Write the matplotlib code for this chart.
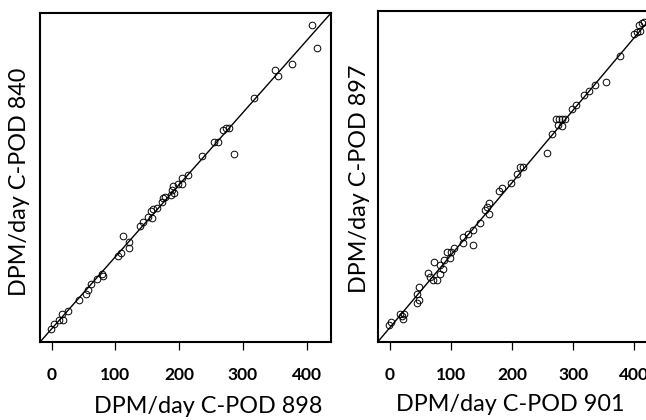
import matplotlib
matplotlib.use("Agg")
import matplotlib.pyplot as plt

# Left panel: C-POD 898 (x) vs C-POD 840 (y)
x_898 = [407.9, 416.2, 376.5, 350.3, 354.5, 317.4, 269.3, 273.5, 278.2, 286.6,
         255.2, 261.5, 235.3, 213.4, 203.9, 205.0, 198.7, 190.9, 192.4, 187.2,
         189.3, 175.2, 177.8, 173.6, 164.7, 159.5, 155.3, 156.9, 151.6, 143.8,
         138.6, 112.4, 121.8, 121.8, 108.2, 104.6, 79.5, 81.0, 70.6, 61.2,
         57.5, 53.9, 43.4, 25.1, 16.2, 17.3, 12.0, 3.7, -1.6]
y_840 = [421.1, 389.6, 367.0, 359.1, 351.2, 320.3, 275.4, 279.1, 279.1, 243.0,
         259.7, 259.7, 239.8, 213.9, 209.7, 201.4, 201.4, 197.7, 188.4, 185.2,
         192.1, 182.0, 182.9, 175.9, 167.6, 166.2, 163.0, 153.7, 155.1, 148.2,
         142.7, 128.8, 120.5, 112.1, 105.2, 100.6, 76.1, 72.8, 69.6, 61.7,
         54.3, 48.8, 40.4, 24.7, 21.0, 11.8, 11.8, 6.2, 0.2]

# Right panel: C-POD 901 (x) vs C-POD 897 (y)
x_901 = [400.5, 404.3, 409.8, 408.2, 412.5, 416.9, 377.0, 354.6, 336.0, 326.7,
         317.5, 304.3, 298.9, 286.9, 282.0, 277.6, 271.6, 274.8, 282.0, 265.0,
         256.8, 218.6, 213.1, 207.6, 198.3, 184.1, 179.2, 162.8, 158.5, 155.7,
         162.3, 147.5, 136.6, 136.6, 127.3, 119.1, 119.1, 104.9, 99.4, 94.0,
         98.4, 88.5, 82.0, 87.4, 72.1, 82.0, 76.5, 71.0, 65.6, 61.7,
         48.1, 43.7, 48.1, 43.7, 22.9, 16.4, 19.1, 21.9, 2.2, -1.6]
y_897 = [405.7, 407.5, 409.4, 417.2, 420.4, 422.2, 374.8, 338.9, 334.8, 326.0,
         321.4, 306.7, 301.6, 288.3, 287.8, 287.8, 287.8, 279.0, 278.6, 267.6,
         240.8, 221.5, 221.5, 212.3, 199.4, 192.5, 187.9, 171.8, 166.3, 162.6,
         157.1, 144.6, 134.0, 114.2, 129.4, 124.8, 116.5, 110.1, 104.1, 104.1,
         95.8, 92.6, 85.7, 81.1, 90.3, 74.2, 65.0, 65.0, 69.6, 75.1,
         55.8, 46.6, 38.3, 33.7, 19.0, 19.0, 15.3, 11.6, 7.4, 2.8]

x_ticks = [0, 100, 200, 300, 400]
x_labels = ["0", "100", "200", "300", "400"]
lim_left = (-18.3, 438.2)
lim_right = (-20.2, 437.0)

FONT = "Lato"
plt.rcParams["font.family"] = [FONT, "DejaVu Sans"]

W, H = 646, 420
fig = plt.figure(figsize=(W / 100, H / 100), dpi=100)

# The right-hand panel runs past the figure edge, as in the (cropped) original
panels = [
    dict(rect=(40, 13, 291, 329), x=x_898, y=y_840, lim=lim_left,
         xlabel="DPM/day C-POD 898", ylabel="DPM/day C-POD 840",
         xl=(0.577, -0.195), yl=(-0.069, 0.486)),
    dict(rect=(377.7, 11, 279.0, 331), x=x_901, y=y_897, lim=lim_right,
         xlabel="DPM/day C-POD 901", ylabel="DPM/day C-POD 897",
         xl=(0.474, -0.19), yl=(-0.064, 0.492)),
]

for p in panels:
    l, t, w, h = p["rect"]
    ax = fig.add_axes([l / W, (H - t - h) / H, w / W, h / H])
    ax.plot(p["lim"], p["lim"], color="black", lw=1.0, zorder=2)
    ax.plot(p["x"], p["y"], linestyle="none", marker="o", ms=4.8,
            mfc="none", mec="black", mew=0.7, zorder=3)
    ax.set_xlim(p["lim"])
    ax.set_ylim(p["lim"])
    ax.set_xticks(x_ticks)
    ax.set_xticklabels(x_labels, fontweight="bold", fontsize=12.5)
    ax.set_yticks([])
    ax.tick_params(axis="x", direction="out", length=6, width=0.9, pad=12)
    for s in ax.spines.values():
        s.set_linewidth(1.5)
    ax.set_xlabel(p["xlabel"], fontsize=16.8, va="center")
    ax.xaxis.set_label_coords(*p["xl"])
    ax.set_ylabel(p["ylabel"], fontsize=16.8, va="center")
    ax.yaxis.set_label_coords(*p["yl"])

fig.savefig("out.png", dpi=100)
